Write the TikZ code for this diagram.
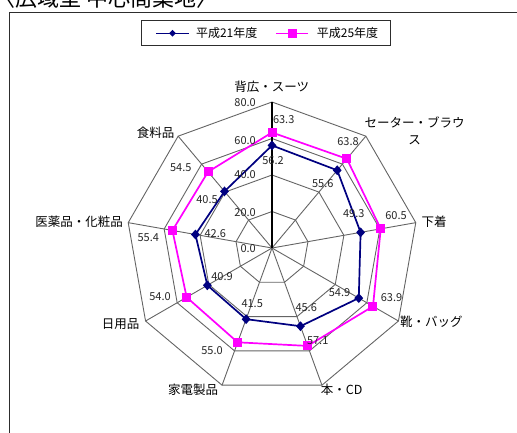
\documentclass[tikz,border=0pt]{standalone}
\usepackage{fontspec}
\setmainfont{Noto Sans CJK JP}
\usetikzlibrary{shapes.geometric}
\definecolor{navyline}{RGB}{0,0,128}
\definecolor{pinkline}{RGB}{255,0,255}
\definecolor{gridgray}{RGB}{100,100,100}
\definecolor{framegray}{RGB}{45,45,45}
\tikzset{
  gridline/.style={gridgray,line width=0.9pt},
  catlabel/.style={font=\fontsize{12.5}{17}\selectfont,inner sep=0pt,align=center},
  numlabel/.style={font=\fontsize{11}{12}\selectfont,text=black!85,inner sep=0pt},
  heisei21/.style={navyline,line width=1.7pt,line join=round},
  heisei25/.style={pinkline,line width=1.7pt,line join=round},
  mark21/.style={diamond,fill=navyline,inner sep=0pt,minimum width=9pt,minimum height=10pt},
  mark25/.style={rectangle,fill=pinkline,inner sep=0pt,minimum size=9pt}
}
\begin{document}
\begin{tikzpicture}[x=1pt,y=-1pt]
   \useasboundingbox (0,0) rectangle (517,433);
   \clip (0,0) rectangle (517,433);
   % title, cut off at the top
   \node[font=\fontsize{22}{24}\selectfont,anchor=base west,inner sep=0pt] (title) at (-7,6.5) {〈広域型 中心商業地〉};
   % frame
   \draw[framegray,line width=1.4pt] (9.5,440) |- (525,12.5);
   % legend
   \node[draw=framegray,line width=1pt,minimum width=249pt,minimum height=25pt,inner sep=0pt] (legend) at (266.3,33.2) {};
   \coordinate (leg21a) at (156,33.3);
   \coordinate (leg21b) at (189,33.3);
   \coordinate (leg25a) at (276,33.3);
   \coordinate (leg25b) at (308,33.3);
   \draw[heisei21,line width=1.4pt] (leg21a) -- (leg21b);
   \draw[heisei25,line width=1.4pt] (leg25a) -- (leg25b);
   \node[mark21,minimum width=7pt,minimum height=7pt] (legm21) at (172.5,33.3) {};
   \node[mark25] (legm25) at (292,33.3) {};
   \node[font=\fontsize{12}{14}\selectfont,inner sep=0pt] (leg21) at (226.7,33.3) {平成21年度};
   \node[font=\fontsize{12}{14}\selectfont,inner sep=0pt] (leg25) at (347.5,33.3) {平成25年度};
   % radar grid and data
   \begin{scope}[shift={(272,248)},yscale=-1]
    \coordinate (c) at (0,0);
    \foreach \r in {1,...,4} {
     \draw[gridline] (90:{36.5*\r}) \foreach \k in {1,...,8} { -- ({90-40*\k}:{36.5*\r}) } -- cycle;
    }
    \foreach \k in {0,...,8} {
     \coordinate (v\k) at ({90-40*\k}:146);
    }
    \foreach \k in {1,...,8} {
     \draw[gridline] (c) -- (v\k);
    }
    \draw[black,line width=1.1pt] (c) -- (v0);
    \foreach \v [count=\k from 0] in {56.2,55.6,49.3,54.9,45.6,41.5,40.9,42.6,40.5} {
     \coordinate (a\k) at ({90-40*\k}:{1.825*\v});
    }
    \foreach \v [count=\k from 0] in {63.3,63.8,60.5,63.9,57.1,55.0,54.0,55.4,54.5} {
     \coordinate (b\k) at ({90-40*\k}:{1.825*\v});
    }
    \draw[heisei25] (b0) \foreach \k in {1,...,8} { -- (b\k) } -- cycle;
    \draw[heisei21] (a0) \foreach \k in {1,...,8} { -- (a\k) } -- cycle;
    \foreach \k in {0,...,8} {
     \node[mark25] (m25-\k) at (b\k) {};
     \node[mark21] (m21-\k) at (a\k) {};
    }
   \end{scope}
   % scale on the top axis
   \foreach \t/\y in {0.0/248.3,20.0/212.3,40.0/175,60.0/140.7,80.0/103} {
    \node[numlabel,anchor=east] (s\t) at (256,\y) {\t};
   }
   % values
   \foreach \t/\x/\y [count=\i] in {56.2/273/160.7,55.6/322.8/183.3,49.3/353.8/213.3,54.9/339.5/292.7,45.6/306.2/307.7,41.5/252.2/303.3,40.9/222/276.7,42.6/215.3/234,40.5/207/199.3} {
    \node[numlabel] (n21-\i) at (\x,\y) {\t};
   }
   \foreach \t/\x/\y [count=\i] in {63.3/283.7/120,63.8/348/141.7,60.5/396/215.7,63.9/391.5/297.3,57.1/317.7/340.7,55.0/212/350.7,54.0/160/296.7,55.4/148.3/237.3,54.5/180.8/167.3} {
    \node[numlabel] (n25-\i) at (\x,\y) {\t};
   }
   % categories
   \node[catlabel] (suit) at (271.7,86.7) {背広・スーツ};
   \node[catlabel] (blouse) at (414.7,131) {セーター・ブラウ\\ス};
   \node[catlabel] (under) at (434.2,221.7) {下着};
   \node[catlabel] (bag) at (431.3,321.7) {靴・バッグ};
   \node[catlabel] (book) at (341.7,389.3) {本・CD};
   \node[catlabel] (elec) at (193,389.3) {家電製品};
   \node[catlabel] (daily) at (120.7,324) {日用品};
   \node[catlabel] (drug) at (79,221.7) {医薬品・化粧品};
   \node[catlabel] (food) at (155.5,132.7) {食料品};
\end{tikzpicture}
\end{document}
